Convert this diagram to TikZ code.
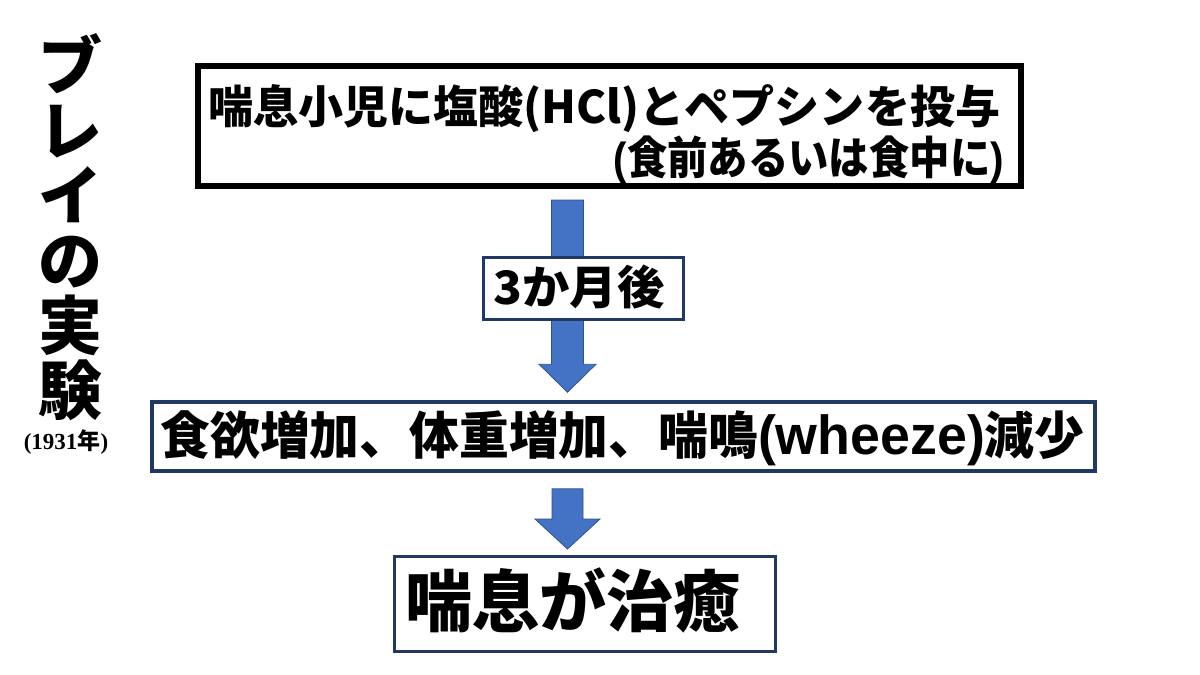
\documentclass[tikz,border=0pt]{standalone}
\usepackage{fontspec}
\usepackage{graphicx}
\setmainfont{Noto Sans CJK JP}
\newfontfamily\latf{Liberation Sans}
\newfontfamily\serf{Liberation Serif}
\usetikzlibrary{calc,backgrounds}
\definecolor{navy}{HTML}{1F3864}
\definecolor{arrowblue}{HTML}{4472C4}
\definecolor{arrowedge}{HTML}{2F528F}
\newcommand\fitw[2]{\resizebox{#1}{\height}{#2}}
\tikzset{
  box/.style={draw=navy, fill=white, rectangle, inner sep=0pt},
  txt/.style={inner sep=0pt, font=\bfseries},
  ttl/.style={inner sep=0pt, font=\bfseries\fontsize{64}{64}\selectfont, anchor=base},
  blockarrow/.style={fill=arrowblue, draw=arrowedge, line width=0.8pt, line join=miter}
}
\begin{document}
\begin{tikzpicture}[x=1pt,y=-1pt]
\useasboundingbox (0,0) rectangle (1200,675);
% boxes
\node[box, draw=black, line width=6pt, minimum width=823pt, minimum height=120pt] (b1) at (609.5,126) {};
\node[box, line width=3pt, minimum width=200pt, minimum height=62pt] (b2) at (583.5,288.5) {};
\node[box, line width=3.5pt, minimum width=943pt, minimum height=69pt] (b3) at (623.5,436.5) {};
\node[box, line width=3pt, minimum width=381pt, minimum height=95pt] (b4) at (585,604) {};
% texts
\node[txt, anchor=base west, font=\bfseries\fontsize{45}{45}\selectfont] (l1) at (208,123) {\fitw{792pt}{喘息小児に塩酸(HCl)とペプシンを投与}};
\node[txt, anchor=base east, font=\bfseries\fontsize{45}{45}\selectfont] (l2) at (1004,174) {\fitw{390pt}{{\latf(}食前あるいは食中に{\latf)}}};
\node[txt, anchor=base, font=\bfseries\fontsize{46}{46}\selectfont] (l3) at (579,304.5) {\fitw{171pt}{3か月後}};
\node[txt, anchor=base, font=\bfseries\fontsize{51}{51}\selectfont] (l4) at (622.5,454) {\fitw{924pt}{食欲増加、体重増加、喘鳴{\latf\fontsize{55}{55}\selectfont(wheeze)}減少}};
\node[txt, anchor=base west, font=\bfseries\fontsize{67}{67}\selectfont] (l5) at (405,626.5) {\fitw{335pt}{喘息が治癒}};
% title
\foreach \c [count=\i] in {ブ,レ,イ,の,実,験} {
  \node[ttl] (t\i) at (70,{24+65*\i}) {\c};
}
\node[txt, anchor=base, font=\bfseries\fontsize{23}{23}\selectfont] (yr) at (66,449) {{\serf(1931}年{\serf)}};
\coordinate (ax) at (567.5,0);
% arrows
\begin{scope}[on background layer]
\fill[white] (0,0) rectangle (1200,675);
\path let \p1 = ([yshift=-11pt]b1.south -| ax), \p2 = ([yshift=8pt]b3.north -| ax) in
  [blockarrow] ({\x1-16pt},\y1) -- ({\x1+16pt},\y1) -- ({\x1+16pt},{\y2+28pt}) -- ({\x1+28.5pt},{\y2+28pt})
  -- (\x2,\y2) -- ({\x1-28.5pt},{\y2+28pt}) -- ({\x1-16pt},{\y2+28pt}) -- cycle;
\path let \p1 = ([yshift=-16pt]b3.south -| ax), \p2 = ([yshift=6pt]b4.north -| ax) in
  [blockarrow] ({\x1-15.5pt},\y1) -- ({\x1+15.5pt},\y1) -- ({\x1+15.5pt},{\y2+30pt}) -- ({\x1+32.5pt},{\y2+30pt})
  -- (\x2,\y2) -- ({\x1-32.5pt},{\y2+30pt}) -- ({\x1-15.5pt},{\y2+30pt}) -- cycle;
\end{scope}
\end{tikzpicture}
\end{document}
